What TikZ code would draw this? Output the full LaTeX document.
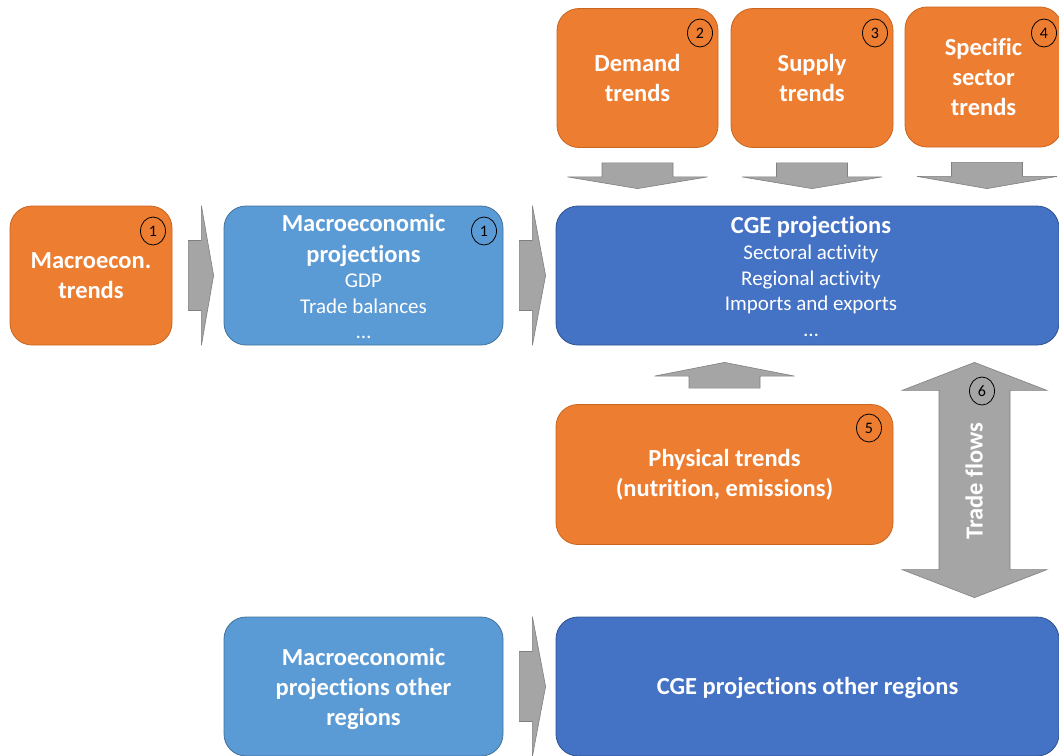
\documentclass[tikz,border=0pt]{standalone}
\usepackage{fontspec}
\setmainfont[Ligatures=NoCommon]{Carlito}
\usetikzlibrary{calc,shapes.geometric}

\definecolor{orangefill}{HTML}{ED7D31}
\definecolor{orangeline}{HTML}{C8651E}
\definecolor{lightbluefill}{HTML}{5B9BD5}
\definecolor{lightblueline}{HTML}{41719C}
\definecolor{bluefill}{HTML}{4472C4}
\definecolor{blueline}{HTML}{2F528F}
\definecolor{arrowgray}{HTML}{A5A5A5}
\definecolor{arrowline}{HTML}{808080}

\newcommand\titletxt{\bfseries\fontsize{24.5}{30}\selectfont}
\newcommand\subtxt{\mdseries\fontsize{21}{25.5}\selectfont}

\tikzset{
  box/.style={rounded corners=22pt, inner sep=0pt, align=center, text=white,
    font=\titletxt, line width=0.8pt},
  orangebox/.style={box, fill=orangefill, draw=orangeline},
  lightbox/.style={box, fill=lightbluefill, draw=lightblueline},
  bluebox/.style={box, fill=bluefill, draw=blueline},
  blk/.style={fill=arrowgray, draw=arrowline, line width=0.6pt, line join=miter},
  num/.style={ellipse, draw=black, line width=0.8pt, minimum width=25pt,
    minimum height=28pt, inner sep=0pt, text=black,
    font=\mdseries\fontsize{16}{16}\selectfont},
  lbl/.style={text=white, align=center, inner sep=0pt}
}

% horizontal block arrow from box #1 to box #2
\newcommand\rightblock[2]{%
  \draw[blk] ($(#1.east)+(16,-35)$) -- ($(#1.east)+(29,-35)$)
    -- ($(#1.north east)+(29,0)$) -- ($(#2.west)+(-10,0)$)
    -- ($(#1.south east)+(29,0)$) -- ($(#1.east)+(29,35)$)
    -- ($(#1.east)+(16,35)$) -- cycle;}

% downward block arrow from box #1 to box #2, shifted by #3
\newcommand\downblock[3]{%
  \draw[blk] ($(#1.south)+(#3-35.5,15)$) -- ($(#1.south)+(#3+35.5,15)$)
    -- ($(#1.south)+(#3+35.5,29)$) -- ($(#1.south)+(#3+70,29)$)
    -- ($(#1.south |- #2.north)+(#3,-17)$)
    -- ($(#1.south)+(#3-70,29)$) -- ($(#1.south)+(#3-35.5,29)$) -- cycle;}

\begin{document}
\begin{tikzpicture}[x=1pt, y=-1pt]
\useasboundingbox (0,0) rectangle (1059,755);
\clip (0,0) rectangle (1059,755);

% trend boxes
\node[orangebox, minimum width=162pt, minimum height=139pt] (mt) at (91,275.5) {Macroecon.\\trends};
\node[orangebox, minimum width=161pt, minimum height=139pt] (dem) at (637.5,78) {Demand\\trends};
\node[orangebox, minimum width=162pt, minimum height=139pt] (sup) at (812,78) {Supply\\trends};
\node[orangebox, minimum width=157pt, minimum height=140pt] (spec) at (983.5,77) {Specific\\sector\\trends};
\node[orangebox, minimum width=337pt, minimum height=140pt] (phy) at (724.5,474.5) {Physical trends\\(nutrition, emissions)};

% projection boxes
\node[lightbox, minimum width=279pt, minimum height=139pt] (mp) at (363.5,275.5) {};
\node[lbl, font=\subtxt] (mptext) at (363.5,276.5)
  {\titletxt Macroeconomic\\[5pt]\titletxt projections\\\subtxt GDP\\\subtxt Trade balances\\\subtxt …};
\node[bluebox, minimum width=503pt, minimum height=139pt] (cge) at (807.5,275.5) {};
\node[lbl, font=\subtxt] (cgetext) at (811,276)
  {\titletxt CGE projections\\[1pt]\subtxt Sectoral activity\\\subtxt Regional activity\\\subtxt Imports and exports\\\subtxt …};
\node[lightbox, minimum width=279pt, minimum height=139pt, text depth=0pt] (mo) at (363.5,686.5) {};
\node[lbl, font=\titletxt] (motext) at (363.5,689) {Macroeconomic\\projections other\\regions};
\node[bluebox, minimum width=503pt, minimum height=139pt] (cgeo) at (807.5,686.5) {};
\node[lbl, font=\titletxt] (cgeotext) at (807.5,688) {CGE projections other regions};

% block arrows between boxes
\rightblock{mt}{mp}
\rightblock{mp}{cge}
\rightblock{mo}{cgeo}
\downblock{dem}{cge}{0}
\downblock{sup}{cge}{0}
\downblock{spec}{cge}{3.5}

\draw[blk] ($(phy.north)+(-35.5,-16)$) -- ($(phy.north)+(-35.5,-28)$)
  -- ($(phy.north)+(-70,-28)$) -- ($(phy.north |- cge.south)+(0,17)$)
  -- ($(phy.north)+(70,-28)$) -- ($(phy.north)+(35.5,-28)$)
  -- ($(phy.north)+(35.5,-16)$) -- cycle;

% two-way trade flow arrow
\coordinate (tfx) at (974.5,480);
\draw[blk] ($(tfx |- cge.south)+(0,17)$) -- ($(tfx |- cge.south)+(72.5,45)$)
  -- ($(tfx |- cge.south)+(35.5,45)$) -- ($(tfx |- cgeo.north)+(35.5,-47)$)
  -- ($(tfx |- cgeo.north)+(72.5,-47)$) -- ($(tfx |- cgeo.north)+(0,-19)$)
  -- ($(tfx |- cgeo.north)+(-72.5,-47)$) -- ($(tfx |- cgeo.north)+(-35.5,-47)$)
  -- ($(tfx |- cge.south)+(-35.5,45)$) -- ($(tfx |- cge.south)+(-72.5,45)$) -- cycle;
\node[lbl, font=\titletxt, rotate=90] (tflbl) at (974,481) {Trade flows};

% step numbers
\node[num] (n1a) at (153,231) {1};
\node[num] (n1b) at (484,231) {1};
\node[num] (n2) at (700,33) {2};
\node[num] (n3) at (875,33) {3};
\node[num] (n4) at (1044,33) {4};
\node[num] (n5) at (869,428) {5};
\node[num] (n6) at (982,391) {6};
\end{tikzpicture}
\end{document}
